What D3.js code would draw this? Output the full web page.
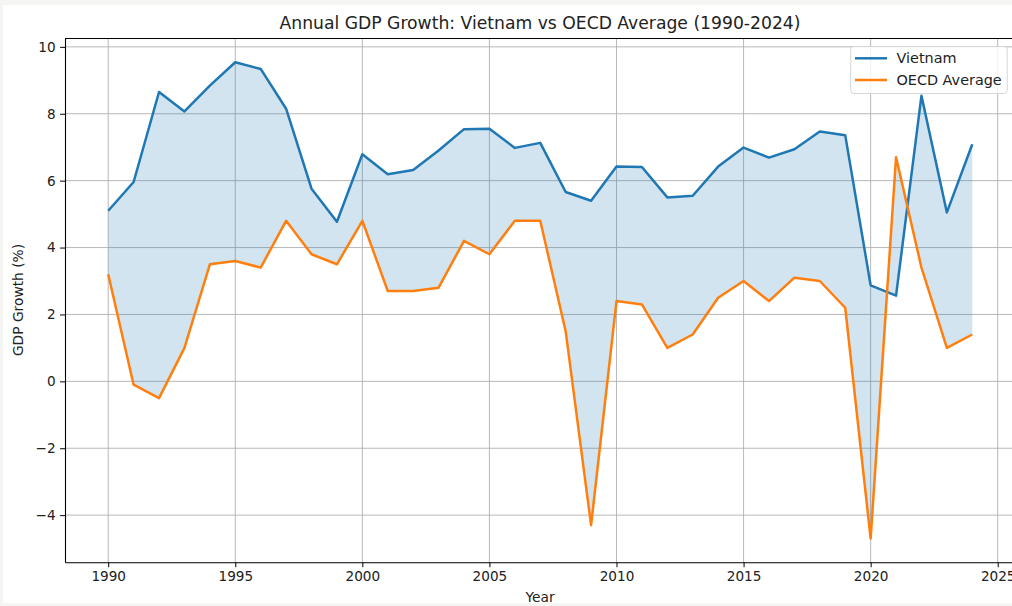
<!DOCTYPE html>
<html><head><meta charset="utf-8">
<script src="https://cdn.jsdelivr.net/npm/d3@7"></script>
<style>
body{margin:0;background:#f5f5f3;}
svg{display:block;}
text{font-family:"DejaVu Sans",sans-serif;fill:#222;}
</style></head>
<body>
<svg id="c" width="1012" height="606"></svg>
<script>
const years = d3.range(1990, 2025);
const vietnam = [5.10,5.96,8.65,8.07,8.84,9.54,9.34,8.15,5.76,4.77,6.79,6.19,6.32,6.90,7.54,7.55,6.98,7.13,5.66,5.40,6.42,6.41,5.50,5.55,6.42,6.99,6.69,6.94,7.47,7.36,2.87,2.56,8.54,5.05,7.09];
const oecd = [3.2,-0.1,-0.5,1.0,3.5,3.6,3.4,4.8,3.8,3.5,4.8,2.7,2.7,2.8,4.2,3.8,4.8,4.8,1.5,-4.3,2.4,2.3,1.0,1.4,2.5,3.0,2.4,3.1,3.0,2.2,-4.7,6.7,3.4,1.0,1.4];
const xTicks = [1990,1995,2000,2005,2010,2015,2020,2025];
const yTicks = [-4,-2,0,2,4,6,8,10];
const seriesNames = ["Vietnam","OECD Average"];
const colors = ["#1f77b4","#ff7f0e"];

const svg = d3.select("#c");
svg.append("rect").attr("x",3).attr("y",5).attr("width",1012).attr("height",598).attr("fill","#fff");

const L=65, R=1015.5, T=38.5, B=562.3;
const x = d3.scaleLinear().domain([1988.3, 2025.7]).range([L,R]);
const y = d3.scaleLinear().domain([-5.41, 10.25]).range([B,T]);

const g = svg.append("g");
// grid
g.selectAll(".gx").data(xTicks).join("line")
 .attr("x1",d=>x(d)).attr("x2",d=>x(d)).attr("y1",T).attr("y2",B)
 .attr("stroke","#b0b0b0").attr("stroke-width",0.9);
g.selectAll(".gy").data(yTicks).join("line")
 .attr("x1",L).attr("x2",R).attr("y1",d=>y(d)).attr("y2",d=>y(d))
 .attr("stroke","#b0b0b0").attr("stroke-width",0.9);

// fill
const area = d3.area().x((d,i)=>x(years[i])).y0((d,i)=>y(oecd[i])).y1((d,i)=>y(vietnam[i]));
g.append("path").datum(years).attr("d",area).attr("fill","#1f77b4").attr("fill-opacity",0.2);

const line = d3.line().x((d,i)=>x(years[i])).y(d=>y(d));
[vietnam,oecd].forEach((s,k)=>{
  g.append("path").datum(s).attr("d",line).attr("fill","none")
   .attr("stroke",colors[k]).attr("stroke-width",2.5).attr("stroke-linejoin","round");
});

// axes
const xa = svg.append("g").attr("transform",`translate(0,${B})`)
 .call(d3.axisBottom(x).tickValues(xTicks).tickFormat(d3.format("d")).tickSize(4.9).tickSizeOuter(0).tickPadding(4.5));
const ya = svg.append("g").attr("transform",`translate(${L},0)`)
 .call(d3.axisLeft(y).tickValues(yTicks).tickFormat(d=>d<0?"\u2212"+Math.abs(d):d).tickSize(4.9).tickSizeOuter(0).tickPadding(4.5));
[xa,ya].forEach(a=>{
  a.selectAll("text").style("font-family","DejaVu Sans").style("font-size","13.6px").attr("fill","#222");
  a.selectAll("line").attr("stroke","#000").attr("stroke-width",1);
  a.select(".domain").attr("stroke","#000").attr("stroke-width",1.1);
});
svg.append("line").attr("x1",L).attr("x2",R).attr("y1",T).attr("y2",T).attr("stroke","#000").attr("stroke-width",1.1);

// labels
svg.append("text").attr("x",540).attr("y",29).attr("text-anchor","middle").style("font-size","17.2px")
 .text("Annual GDP Growth: Vietnam vs OECD Average (1990-2024)");
svg.append("text").attr("x",540).attr("y",602).attr("text-anchor","middle").style("font-size","13.8px").text("Year");
svg.append("text").attr("transform","translate(23,300) rotate(-90)").attr("text-anchor","middle").style("font-size","13.8px").text("GDP Growth (%)");

// legend
const lg = svg.append("g");
lg.append("rect").attr("x",850.7).attr("y",46.5).attr("width",156.5).attr("height",47).attr("rx",3)
 .attr("fill","#fff").attr("fill-opacity",0.8).attr("stroke","#d6d6d6").attr("stroke-width",1);
seriesNames.forEach((n,k)=>{
  const yy = 58.3 + k*21.7;
  lg.append("line").attr("x1",855).attr("x2",887).attr("y1",yy).attr("y2",yy).attr("stroke",colors[k]).attr("stroke-width",2.5);
  lg.append("text").attr("x",896.5).attr("y",yy+5).style("font-size","14.4px").text(n);
});
</script>
</body></html>
